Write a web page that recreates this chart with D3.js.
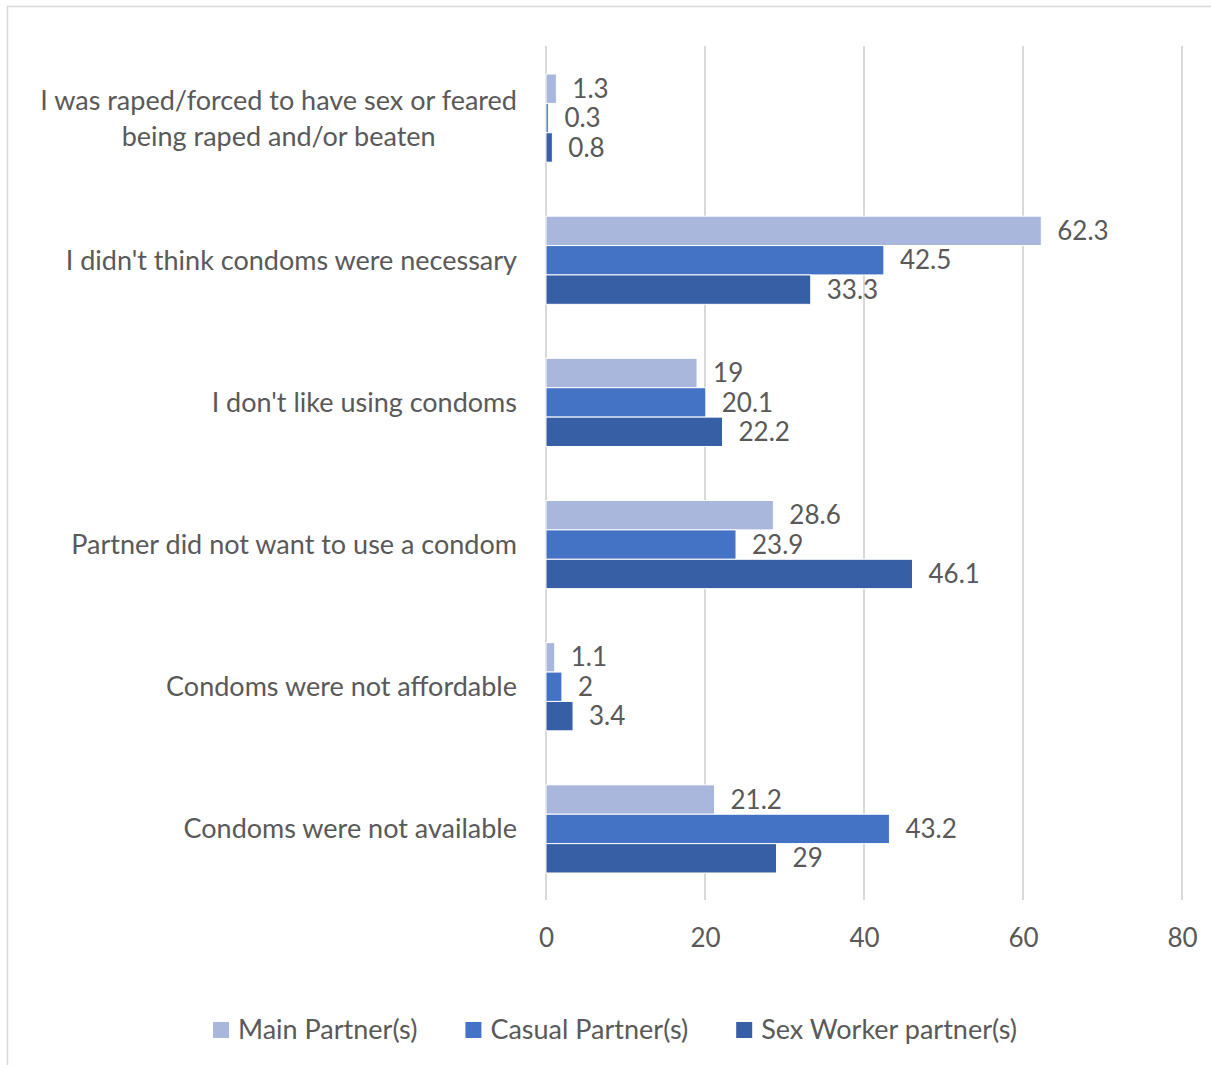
<!DOCTYPE html>
<html>
<head>
<meta charset="utf-8">
<script src="https://cdn.jsdelivr.net/npm/d3@7"></script>
<style>
  html, body { margin: 0; padding: 0; background: #fff; }
  svg { display: block; }
  text { font-family: Lato, "Open Sans", sans-serif; fill: #595959; }
</style>
</head>
<body>
<svg id="chart" width="1211" height="1065"></svg>
<script>
// Reasons for not using a condom, by partner type (%)
const categories = [
  "I was raped/forced to have sex or feared|being raped and/or beaten",
  "I didn't think condoms were necessary",
  "I don't like using condoms",
  "Partner did not want to use a condom",
  "Condoms were not affordable",
  "Condoms were not available"
];
const seriesNames = ["Main Partner(s)", "Casual Partner(s)", "Sex Worker partner(s)"];
const mainValues = [1.3, 62.3, 19, 28.6, 1.1, 21.2];
const casualValues = [0.3, 42.5, 20.1, 23.9, 2, 43.2];
const sexWorkerValues = [0.8, 33.3, 22.2, 46.1, 3.4, 29];
const xTicks = [0, 20, 40, 60, 80];

const seriesValues = [mainValues, casualValues, sexWorkerValues];
const colors = ["#a9b7dc", "#4472c4", "#375fa5"];

const svg = d3.select("#chart");

// chart frame
svg.append("rect")
  .attr("x", 7.5).attr("y", 6.5)
  .attr("width", 1220).attr("height", 1080)
  .attr("fill", "none").attr("stroke", "#d9d9d9").attr("stroke-width", 1.5);

const x = d3.scaleLinear().domain([0, 80]).range([546, 1182]);
const y = d3.scaleBand().domain(categories).range([47, 900])
  .paddingInner(0.38).paddingOuter(0.19);
const ySeries = d3.scaleBand().domain(seriesNames).range([0, y.bandwidth()]);
const color = d3.scaleOrdinal().domain(seriesNames).range(colors);

// vertical gridlines
svg.append("g").selectAll("line").data(xTicks).join("line")
  .attr("x1", d => x(d)).attr("x2", d => x(d))
  .attr("y1", 46).attr("y2", 900)
  .attr("stroke", "#d9d9d9").attr("stroke-width", 2);

// x axis tick labels
const xAxis = d3.axisBottom(x).tickValues(xTicks).tickSize(0).tickPadding(0);
const xg = svg.append("g").attr("transform", "translate(0,938)").call(xAxis);
xg.select(".domain").remove();
xg.selectAll("text")
  .attr("dy", "0.35em").attr("y", 0)
  .style("font-size", "26px").style("font-family", "Lato, sans-serif")
  .attr("fill", "#595959");

// bars
const rows = [];
categories.forEach((c, i) => {
  seriesNames.forEach((s, j) => rows.push({ cat: c, series: s, value: seriesValues[j][i] }));
});

const bars = svg.append("g");
bars.selectAll("rect").data(rows).join("rect")
  .attr("x", x(0))
  .attr("y", d => y(d.cat) + ySeries(d.series))
  .attr("width", d => x(d.value) - x(0))
  .attr("height", ySeries.bandwidth())
  .attr("fill", d => color(d.series))
  .attr("stroke", "#ffffff").attr("stroke-width", 1);

// value labels
svg.append("g").selectAll("text").data(rows).join("text")
  .attr("x", d => x(d.value) + 16)
  .attr("y", d => y(d.cat) + ySeries(d.series) + ySeries.bandwidth() / 2)
  .attr("dy", "0.35em")
  .style("font-size", "26px")
  .text(d => d.value);

// category labels (right aligned block, lines centred within it)
const catG = svg.append("g");
categories.forEach(c => {
  const lines = c.split("|");
  const cy = y(c) + y.bandwidth() / 2;
  const lineH = 36;
  const t = catG.append("text").style("font-size", "27px");
  lines.forEach((ln, k) => {
    t.append("tspan").attr("y", cy + (k - (lines.length - 1) / 2) * lineH).attr("dy", "0.35em").text(ln);
  });
  const widths = [];
  t.selectAll("tspan").each(function () { widths.push(this.getComputedTextLength()); });
  const maxW = d3.max(widths);
  const right = 517;
  if (lines.length > 1) {
    t.attr("text-anchor", "middle");
    t.selectAll("tspan").attr("x", right - maxW / 2);
  } else {
    t.attr("text-anchor", "end");
    t.selectAll("tspan").attr("x", right);
  }
});

// legend
const legend = svg.append("g");
const items = legend.selectAll("g").data(seriesNames).join("g");
items.append("rect").attr("width", 16).attr("height", 16).attr("y", -8)
  .attr("fill", d => color(d));
items.append("text").attr("x", 25).attr("dy", "0.35em")
  .style("font-size", "27px").text(d => d);
let offs = [], cur = 0;
items.each(function () {
  offs.push(cur);
  cur += 25 + d3.select(this).select("text").node().getComputedTextLength() + 48;
});
const totalW = cur - 48;
const startX = 615 - totalW / 2;
items.attr("transform", (d, i) => `translate(${startX + offs[i]},1030)`);
</script>
</body>
</html>
